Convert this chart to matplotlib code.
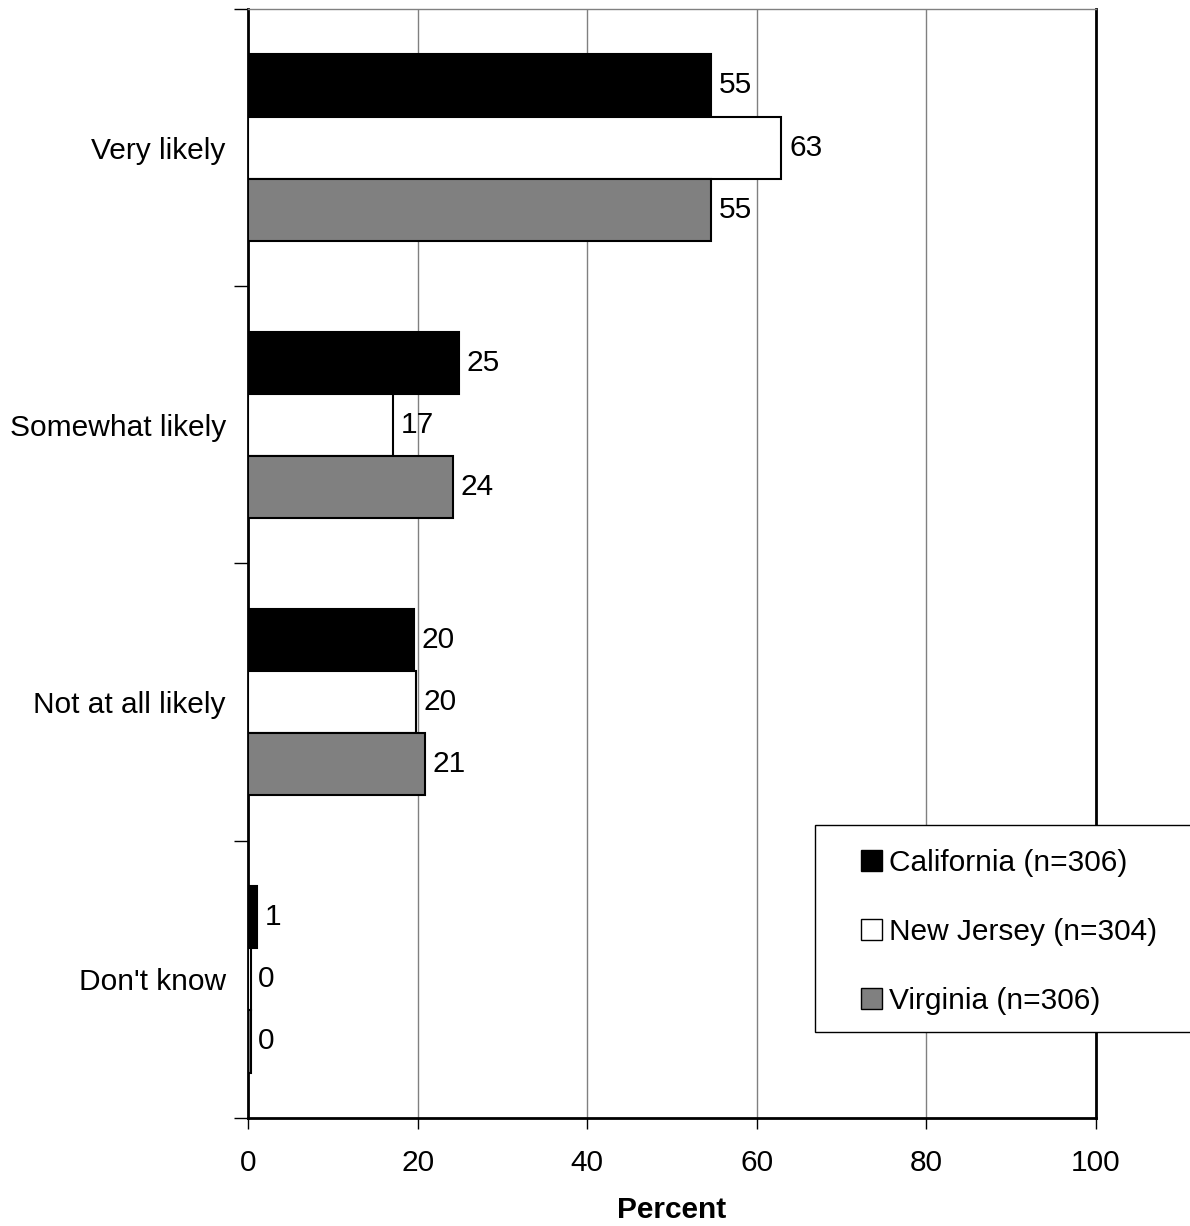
import numpy as np
import matplotlib.pyplot as plt
from matplotlib.patches import Patch, Rectangle

plt.rcParams['font.family'] = ['Liberation Sans', 'DejaVu Sans']

categories = ["Very likely", "Somewhat likely", "Not at all likely", "Don't know"]
series = ["California (n=306)", "New Jersey (n=304)", "Virginia (n=306)"]
california = [54.6, 24.9, 19.6, 1.1]
new_jersey = [62.9, 17.1, 19.8, 0.3]
virginia = [54.6, 24.2, 20.9, 0.3]
california_lbl = ["55", "25", "20", "1"]
new_jersey_lbl = ["63", "17", "20", "0"]
virginia_lbl = ["55", "24", "21", "0"]
colors = ["black", "white", "#808080"]

FS = 21.5

fig = plt.figure(figsize=(11.9, 12.26), dpi=100)
ax = fig.add_axes([0.2084, 0.0881, 0.7126, 0.9046])

y = np.arange(len(categories))
h = 0.224
vals = [california, new_jersey, virginia]
lbls = [california_lbl, new_jersey_lbl, virginia_lbl]
for i, (v, l, c) in enumerate(zip(vals, lbls, colors)):
    pos = y + (i - 1) * h
    ax.barh(pos, v, height=h, color=c, edgecolor="black", linewidth=1.5, zorder=3)
    for p, val, txt in zip(pos, v, l):
        ax.text(val + 0.9, p, txt, va="center", ha="left", fontsize=FS)

ax.set_xlim(0, 100)
ax.set_ylim(len(categories) - 0.5, -0.5)
ax.set_xticks([0, 20, 40, 60, 80, 100])
ax.set_xticklabels(["0", "20", "40", "60", "80", "100"], fontsize=FS)
ax.set_yticks(np.arange(-0.5, len(categories), 1.0))
ax.set_yticklabels([])
ax.set_yticks(y, minor=True)
ax.set_yticklabels(categories, minor=True, fontsize=FS)
ax.tick_params(axis="y", which="minor", length=0, pad=16)
ax.tick_params(axis="y", which="major", length=10, width=1)
ax.tick_params(axis="x", length=8, width=1, pad=14)
ax.grid(axis="x", color="#808080", linewidth=1, zorder=0)

for s in ["left", "bottom", "right"]:
    ax.spines[s].set_linewidth(2)
    ax.spines[s].set_color("black")
ax.spines["top"].set_color("#808080")
ax.spines["top"].set_linewidth(1)

ax.set_xlabel("Percent", fontsize=FS, fontweight="bold", labelpad=14)

# legend box runs past the right edge of the image, as in the original
box = Rectangle((815 / 1190, 1 - 1032 / 1226), 420 / 1190, 207 / 1226,
                transform=fig.transFigure, facecolor="white", edgecolor="black",
                linewidth=1, zorder=5)
fig.patches.append(box)
handles = [Patch(facecolor=c, edgecolor="black", linewidth=1) for c in colors]
leg = fig.legend(handles, series, loc="upper left",
                 bbox_to_anchor=(861 / 1190, 1 - 849 / 1226),
                 fontsize=FS, frameon=False,
                 handlelength=0.7, handleheight=0.7, handletextpad=0.25,
                 labelspacing=1.37, borderpad=0, borderaxespad=0)
leg.set_zorder(6)

fig.savefig("out.png", dpi=100)
